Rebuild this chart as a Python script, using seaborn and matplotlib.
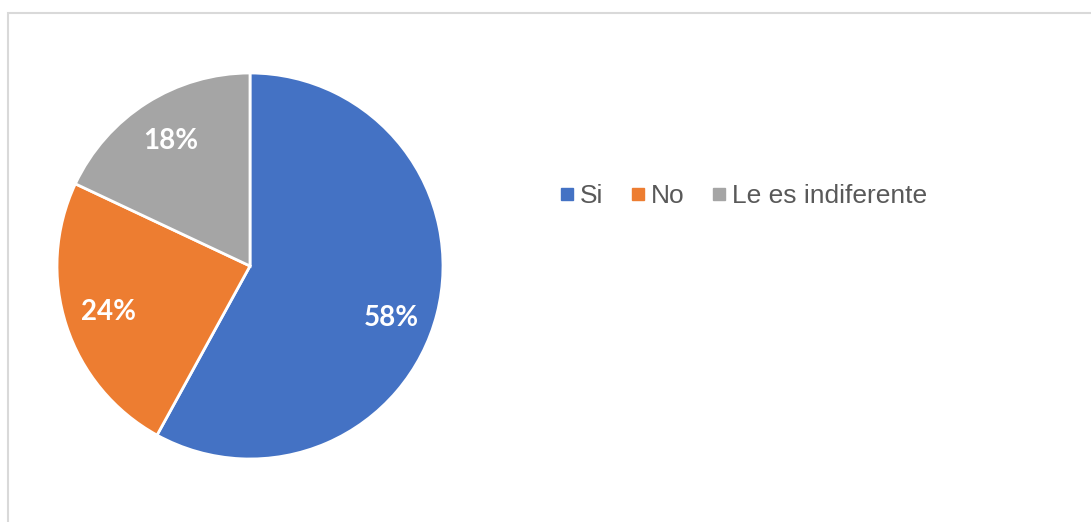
import matplotlib
matplotlib.use('Agg')
import matplotlib.pyplot as plt
from matplotlib.lines import Line2D
from matplotlib.patches import Rectangle
import numpy as np
import seaborn as sns

# data
categories = ['Si', 'No', 'Le es indiferente']
shares = [58, 24, 18]
colors = ['#4472C4', '#ED7D31', '#A5A5A5']

sns.set_theme(style='white')
plt.rcParams['font.family'] = ['Liberation Sans', 'DejaVu Sans']

W, H = 1091, 522
fig = plt.figure(figsize=(W / 100, H / 100), dpi=100)
fig.patch.set_facecolor('white')

# chart frame (runs off the right and bottom edges)
fig.patches.append(Rectangle((8 / W, -0.1), 1.2, 1 - 13 / H + 0.1,
                             transform=fig.transFigure, fill=False,
                             edgecolor='#d9d9d9', linewidth=1.5))

# pie: centre (250, 266) px from top-left, radius 193 px
cx, cy, r = 250, H - 266, 193
ax = fig.add_axes([(cx - r) / W, (cy - r) / H, 2 * r / W, 2 * r / H])
wedges, texts, autotexts = ax.pie(
    shares, colors=colors, startangle=90, counterclock=False,
    autopct='%1.0f%%', pctdistance=0.77, radius=1,
    wedgeprops=dict(edgecolor='white', linewidth=2),
    textprops=dict(color='white', fontsize=20, fontweight='bold',
                   family=['Lato', 'DejaVu Sans']))
# the big slice's label sits a little lower, like Excel's best fit
w0 = wedges[0]
ang = np.deg2rad((w0.theta1 + w0.theta2) / 2 - 6)
autotexts[0].set_position((0.78 * np.cos(ang), 0.78 * np.sin(ang)))
ax.set_xlim(-1, 1)
ax.set_ylim(-1, 1)
ax.set_aspect('equal')
ax.axis('off')

handles = [Line2D([], [], marker='s', linestyle='none', markersize=8,
                  markerfacecolor=c, markeredgecolor=c) for c in colors]
fig.legend(handles, categories, loc='center left',
           bbox_to_anchor=(546 / W, 1 - 196 / H), ncol=3, frameon=False,
           fontsize=19, labelcolor='#595959', handlelength=0.6,
           handletextpad=0.2, columnspacing=1.0, borderpad=0)

fig.savefig('out.png', dpi=100)
